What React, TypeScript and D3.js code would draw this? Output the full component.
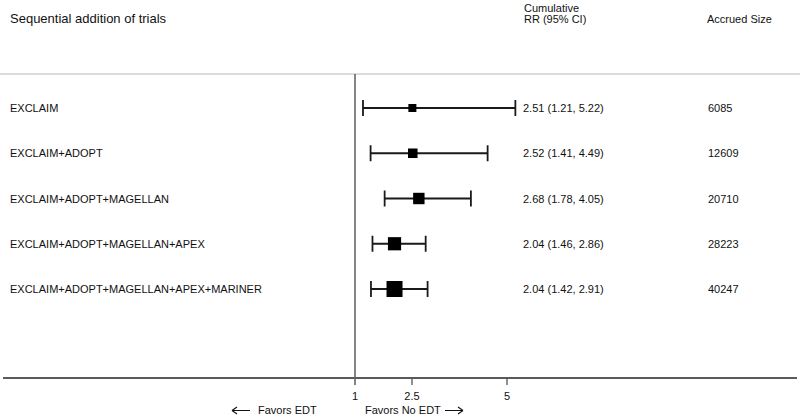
import React from "react";
import * as d3 from "d3";

const studies = [
  "EXCLAIM",
  "EXCLAIM+ADOPT",
  "EXCLAIM+ADOPT+MAGELLAN",
  "EXCLAIM+ADOPT+MAGELLAN+APEX",
  "EXCLAIM+ADOPT+MAGELLAN+APEX+MARINER",
];
const rr = [2.51, 2.52, 2.68, 2.04, 2.04];
const lower = [1.21, 1.41, 1.78, 1.46, 1.42];
const upper = [5.22, 4.49, 4.05, 2.86, 2.91];
const accrued = [6085, 12609, 20710, 28223, 40247];
const xTicks = [1, 2.5, 5];
const xTickLabels = ["1", "2.5", "5"];

const W = 800;
const H = 418;
const FONT = "Arial, 'Liberation Sans', Helvetica, sans-serif";

export default function App() {
  const x = d3.scaleLinear().domain([1, 5]).range([355, 507]);
  const y = d3.scalePoint<string>().domain(studies).range([108, 289]);
  const box = d3.scaleLinear().domain([d3.min(accrued)!, d3.max(accrued)!]).range([8, 16]);
  const fmt = d3.format(".2f");
  const axisY = 378;
  const capH = 8;
  const ink = "#1a1a1a";

  return (
    <svg
      width={W}
      height={H}
      style={{ position: "absolute", left: 0, top: 0, background: "#fff" }}
      fontFamily={FONT}
    >
      <rect x={0} y={0} width={W} height={H} fill="#fff" />
      {/* headers */}
      <text x={10} y={23} fontSize={13} fill="#111">Sequential addition of trials</text>
      <text x={524} y={12} fontSize={11} fill="#111">Cumulative</text>
      <text x={524} y={23} fontSize={11} fill="#111">RR (95% CI)</text>
      <text x={707} y={23} fontSize={11} fill="#111">Accrued Size</text>

      {/* top separator */}
      <line x1={0} x2={W} y1={74} y2={74} stroke="#cfcfcf" strokeWidth={1.5} />
      {/* bottom axis */}
      <line x1={3} x2={797} y1={axisY} y2={axisY} stroke="#5a5a5a" strokeWidth={2} />
      {/* null line */}
      <line x1={x(1)} x2={x(1)} y1={74} y2={385} stroke="#666" strokeWidth={1.6} />
      {xTicks.map((t, i) => (
        <g key={t}>
          {t !== 1 && (
            <line x1={x(t)} x2={x(t)} y1={axisY} y2={385} stroke="#555" strokeWidth={1.3} />
          )}
          <text x={x(t)} y={400} fontSize={11} textAnchor="middle" fill="#111">
            {xTickLabels[i]}
          </text>
        </g>
      ))}

      {/* favors labels */}
      <g fontSize={11} fill="#111">
        <text x={258} y={414}>Favors EDT</text>
        <text x={365} y={414}>Favors No EDT</text>
      </g>
      <g stroke="#111" strokeWidth={1.1} fill="none">
        <path d="M232,410.5 H250 M232,410.5 l5,-3.5 M232,410.5 l5,3.5" />
        <path d="M445,410.5 H463 M463,410.5 l-5,-3.5 M463,410.5 l-5,3.5" />
      </g>

      {/* rows */}
      {studies.map((s, i) => {
        const cy = y(s)!;
        const b = box(accrued[i]);
        return (
          <g key={s}>
            <text x={10} y={cy + 4} fontSize={11} fill="#111">{s}</text>
            <line x1={x(lower[i])} x2={x(upper[i])} y1={cy} y2={cy} stroke={ink} strokeWidth={1.8} />
            <line x1={x(lower[i])} x2={x(lower[i])} y1={cy - capH} y2={cy + capH} stroke={ink} strokeWidth={1.8} />
            <line x1={x(upper[i])} x2={x(upper[i])} y1={cy - capH} y2={cy + capH} stroke={ink} strokeWidth={1.8} />
            <rect x={x(rr[i]) - b / 2} y={cy - b / 2} width={b} height={b} fill="#000" />
            <text x={523} y={cy + 4} fontSize={11} fill="#111">
              {`${fmt(rr[i])} (${fmt(lower[i])}, ${fmt(upper[i])})`}
            </text>
            <text x={708} y={cy + 4} fontSize={11} fill="#111">{accrued[i]}</text>
          </g>
        );
      })}
    </svg>
  );
}
